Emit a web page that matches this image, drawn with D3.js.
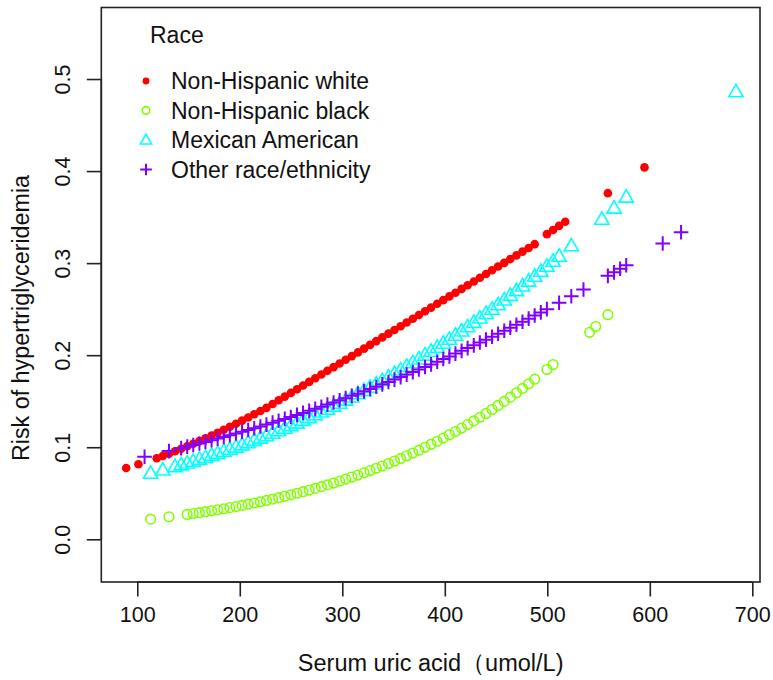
<!DOCTYPE html>
<html>
<head>
<meta charset="utf-8">
<script src="https://cdn.jsdelivr.net/npm/d3@7"></script>
<style>
  body { margin: 0; background: #fff; }
  svg { font-family: "Liberation Sans", Arial, Helvetica, sans-serif; }
</style>
</head>
<body>
<svg id="chart" width="773" height="680"></svg>
<script>
// series names and colours (R rainbow(4))
const seriesNames = ['Non-Hispanic white', 'Non-Hispanic black', 'Mexican American', 'Other race/ethnicity']
const seriesColors = ['#FF0000', '#80FF00', '#00FFFF', '#8000FF']

const xTicks = [100, 200, 300, 400, 500, 600, 700]
const yTicks = [0, 0.1, 0.2, 0.3, 0.4, 0.5]

// serum uric acid values (umol/L) where each group has points
const whiteX = [89.2, 101.1, 119.0, 124.9, 130.9, 136.8, 142.8, 148.7, 154.6, 160.6, 166.5, 172.5, 178.4, 184.4, 190.3, 196.3, 202.2, 208.2, 214.1, 220.1, 226.0, 232.0, 237.9, 243.9, 249.8, 255.8, 261.7, 267.7, 273.6, 279.6, 285.5, 291.5, 297.4, 303.3, 309.3, 315.2, 321.2, 327.1, 333.1, 339.0, 345.0, 350.9, 356.9, 362.8, 368.8, 374.7, 380.7, 386.6, 392.6, 398.5, 404.5, 410.4, 416.4, 422.3, 428.3, 434.2, 440.2, 446.1, 452.0, 458.0, 463.9, 469.9, 475.8, 481.8, 487.7, 499.6, 505.6, 511.5, 517.5, 559.1, 594.8]
const whiteY = [0.0775, 0.0815,
  0.088, 0.0905, 0.093, 0.0956, 0.0983, 0.101, 0.1038, 0.1067, 0.1097, 0.1127,
  0.1158, 0.119, 0.1222, 0.1255, 0.1289, 0.1323, 0.1358, 0.1393, 0.1428, 0.147,
  0.151, 0.155, 0.159, 0.163, 0.167, 0.171, 0.175, 0.179, 0.183, 0.187,
  0.191, 0.195, 0.199, 0.203, 0.2071, 0.2112, 0.2153, 0.2193, 0.2234, 0.2274,
  0.2315, 0.2355, 0.2396, 0.2436, 0.2477, 0.2517, 0.2558, 0.2598, 0.2639, 0.2679,
  0.272, 0.276, 0.2801, 0.2841, 0.2882, 0.2922, 0.2963, 0.3003, 0.3044, 0.3084,
  0.3125, 0.3165, 0.3206,
  0.3315, 0.336, 0.3405, 0.345, 0.376, 0.404]

const blackX = [113.0, 130.9, 148.7, 154.6, 160.6, 166.5, 172.5, 178.4, 184.4, 190.3, 196.3, 202.2, 208.2, 214.1, 220.1, 226.0, 232.0, 237.9, 243.9, 249.8, 255.8, 261.7, 267.7, 273.6, 279.6, 285.5, 291.5, 297.4, 303.3, 309.3, 315.2, 321.2, 327.1, 333.1, 339.0, 345.0, 350.9, 356.9, 362.8, 368.8, 374.7, 380.7, 386.6, 392.6, 398.5, 404.5, 410.4, 416.4, 422.3, 428.3, 434.2, 440.2, 446.1, 452.0, 458.0, 463.9, 469.9, 475.8, 481.8, 487.7, 499.6, 505.6, 541.3, 547.2, 559.1]
const blackY = [0.0219, 0.0244,
  0.0270, 0.0279, 0.0289, 0.0300, 0.0310, 0.0321, 0.0332, 0.0344, 0.0355, 0.0368,
  0.0381, 0.0394, 0.0408, 0.0422, 0.0436, 0.0452, 0.0467, 0.0483, 0.0500, 0.0517,
  0.0535, 0.0553, 0.0572, 0.0591, 0.0611, 0.0632, 0.0654, 0.0676, 0.0698, 0.0722,
  0.0746, 0.0771, 0.0796, 0.0823, 0.0850, 0.0878, 0.0907, 0.0937, 0.0968, 0.0999,
  0.1032, 0.1065, 0.1099, 0.1135, 0.1171, 0.1208, 0.1246, 0.1286, 0.1326, 0.1367,
  0.1410, 0.1454, 0.1498, 0.1544, 0.1591, 0.1639, 0.1689, 0.1739,
  0.1844, 0.1898, 0.2248, 0.2311, 0.2440]

const mexX = [113.0, 124.9, 136.8, 142.8, 148.7, 154.6, 160.6, 166.5, 172.5, 178.4, 184.4, 190.3, 196.3, 202.2, 208.2, 214.1, 220.1, 226.0, 232.0, 237.9, 243.9, 249.8, 255.8, 261.7, 267.7, 273.6, 279.6, 285.5, 291.5, 297.4, 303.3, 309.3, 315.2, 321.2, 327.1, 333.1, 339.0, 345.0, 350.9, 356.9, 362.8, 368.8, 374.7, 380.7, 386.6, 392.6, 398.5, 404.5, 410.4, 416.4, 422.3, 428.3, 434.2, 440.2, 446.1, 452.0, 458.0, 463.9, 469.9, 475.8, 481.8, 487.7, 493.7, 499.6, 505.6, 511.5, 523.4, 553.2, 565.1, 577.0, 684.0]
const mexY = [0.0717, 0.0752,
  0.0789, 0.0808, 0.0828, 0.0848, 0.0869, 0.0889, 0.0911, 0.0933, 0.0955, 0.0978,
  0.1001, 0.1025, 0.1050, 0.1074, 0.1099, 0.1125, 0.1152, 0.1178, 0.1206, 0.1234,
  0.1262, 0.1291, 0.1321, 0.1351, 0.1382, 0.1414, 0.1446, 0.1478, 0.1511, 0.1545,
  0.1580, 0.1615, 0.1650, 0.1687, 0.1724, 0.1761, 0.1800, 0.1838, 0.1878, 0.1918,
  0.1959, 0.2000, 0.2042, 0.2085, 0.2129, 0.2173, 0.2217, 0.2263, 0.2309, 0.2356,
  0.2403, 0.2451, 0.2499, 0.2548, 0.2599, 0.2649, 0.2701, 0.2752, 0.2804, 0.2857,
  0.2911, 0.2966, 0.3020, 0.3075,
  0.3188, 0.3477, 0.3597, 0.3717, 0.4862]

const otherX = [107.1, 130.9, 142.8, 148.7, 154.6, 160.6, 166.5, 172.5, 178.4, 184.4, 190.3, 196.3, 202.2, 208.2, 214.1, 220.1, 226.0, 232.0, 237.9, 243.9, 249.8, 255.8, 261.7, 267.7, 273.6, 279.6, 285.5, 291.5, 297.4, 303.3, 309.3, 315.2, 321.2, 327.1, 333.1, 339.0, 345.0, 350.9, 356.9, 362.8, 368.8, 374.7, 380.7, 386.6, 392.6, 398.5, 404.5, 410.4, 416.4, 422.3, 428.3, 434.2, 440.2, 446.1, 452.0, 458.0, 463.9, 469.9, 475.8, 481.8, 487.7, 493.7, 499.6, 511.5, 523.4, 535.3, 559.1, 565.1, 571.0, 577.0, 612.6, 630.5]
const otherY = [0.0896, 0.0958, 0.0990,
  0.1007, 0.1024, 0.1041, 0.1058, 0.1076, 0.1094, 0.1112, 0.1130, 0.1149, 0.1168,
  0.1187, 0.1207, 0.1226, 0.1246, 0.1267, 0.1287, 0.1308, 0.1329, 0.1351, 0.1373,
  0.1395, 0.1417, 0.1440, 0.1463, 0.1486, 0.1510, 0.1533, 0.1558, 0.1582, 0.1607,
  0.1632, 0.1657, 0.1683, 0.1709, 0.1735, 0.1762, 0.1789, 0.1816, 0.1844, 0.1872,
  0.1900, 0.1929, 0.1958, 0.1987, 0.2017, 0.2047, 0.2077, 0.2107, 0.2138, 0.2169,
  0.2201, 0.2233, 0.2265, 0.2298, 0.2330, 0.2363, 0.2397, 0.2431, 0.2465, 0.2500,
  0.2570, 0.2641, 0.2714, 0.2862, 0.2900, 0.2939, 0.2977, 0.3214, 0.3336]

const seriesData = [[whiteX, whiteY], [blackX, blackY], [mexX, mexY], [otherX, otherY]]
  .map(([xs, ys]) => xs.map((x, i) => ({x: x, y: ys[i]})))

// plot box
const box = {left: 101.3, right: 760, top: 7.5, bottom: 582}

const x = d3.scaleLinear().domain([64.9, 707.5]).range([box.left, box.right])
const y = d3.scaleLinear().domain([-0.0464, 0.5777]).range([box.bottom, box.top])

const svg = d3.select('#chart')
const ink = '#222'

// marker drawers (pch 19, 1, 2, 3)
function drawMarker(g, k, s) {
  const c = seriesColors[k]
  if (k === 0) {
    g.append('circle').attr('r', 4.3 * s).attr('fill', c)
  } else if (k === 1) {
    g.append('circle').attr('r', 4.8 * s).attr('fill', 'none').attr('stroke', c).attr('stroke-width', 1.6)
  } else if (k === 2) {
    const a = 7.1 * s
    g.append('path')
      .attr('d', `M0,${-a * 1.05}L${a},${a * 0.7}L${-a},${a * 0.7}Z`)
      .attr('fill', 'none').attr('stroke', c).attr('stroke-width', 1.6)
  } else {
    const a = 7.3 * s
    g.append('path')
      .attr('d', `M${-a},0H${a}M0,${-a}V${a}`)
      .attr('fill', 'none').attr('stroke', c).attr('stroke-width', 2)
  }
}

// points
seriesData.forEach((pts, k) => {
  svg.append('g')
    .selectAll('g')
    .data(pts)
    .join('g')
    .attr('transform', d => `translate(${x(d.x)},${y(d.y)})`)
    .each(function() { drawMarker(d3.select(this), k, 1) })
})

// frame
svg.append('rect')
  .attr('x', box.left).attr('y', box.top)
  .attr('width', box.right - box.left).attr('height', box.bottom - box.top)
  .attr('fill', 'none').attr('stroke', ink).attr('stroke-width', 1.6)

// x axis
const xAxis = svg.append('g')
  .attr('transform', `translate(0,${box.bottom})`)
  .call(d3.axisBottom(x).tickValues(xTicks).tickSize(14.5).tickPadding(10).tickSizeOuter(0))
xAxis.select('.domain').attr('d', `M${x(100)},0H${x(700)}`).attr('stroke', ink).attr('stroke-width', 1.6)
xAxis.selectAll('.tick line').attr('stroke', ink).attr('stroke-width', 1.6)
xAxis.selectAll('.tick text')
  .attr('font-size', 21.5).attr('fill', '#111')
  .attr('font-family', '"Liberation Sans", Arial, sans-serif')

// y axis with rotated labels
const yAxis = svg.append('g')
  .attr('transform', `translate(${box.left},0)`)
  .call(d3.axisLeft(y).tickValues(yTicks).tickSize(14.5).tickFormat(d3.format('.1f')).tickSizeOuter(0))
yAxis.select('.domain').attr('d', `M0,${y(0)}V${y(0.5)}`).attr('stroke', ink).attr('stroke-width', 1.6)
yAxis.selectAll('.tick line').attr('stroke', ink).attr('stroke-width', 1.6)
yAxis.selectAll('.tick text')
  .attr('font-size', 21.5).attr('fill', '#111')
  .attr('font-family', '"Liberation Sans", Arial, sans-serif')
  .attr('x', null).attr('dy', null)
  .attr('text-anchor', 'middle')
  .attr('transform', 'translate(-31,0) rotate(-90)')

// axis titles
svg.append('text')
  .attr('x', (box.left + box.right) / 2).attr('y', 671)
  .attr('text-anchor', 'middle').attr('font-size', 23.5).attr('fill', '#111')
  .text('Serum uric acid（umol/L)')

svg.append('text')
  .attr('transform', 'translate(29,318) rotate(-90)')
  .attr('text-anchor', 'middle').attr('font-size', 23.3).attr('fill', '#111')
  .text('Risk of hypertriglyceridemia')

// legend
const legend = svg.append('g')
legend.append('text').attr('x', 150).attr('y', 43)
  .attr('font-size', 23).attr('fill', '#111').text('Race')

seriesNames.forEach((name, k) => {
  const row = legend.append('g').attr('transform', `translate(146,${81 + k * 29.5})`)
  drawMarker(row, k, 0.8)
  row.append('text').attr('x', 25).attr('y', 8)
    .attr('font-size', 23).attr('fill', '#111').text(name)
})
</script>
</body>
</html>
